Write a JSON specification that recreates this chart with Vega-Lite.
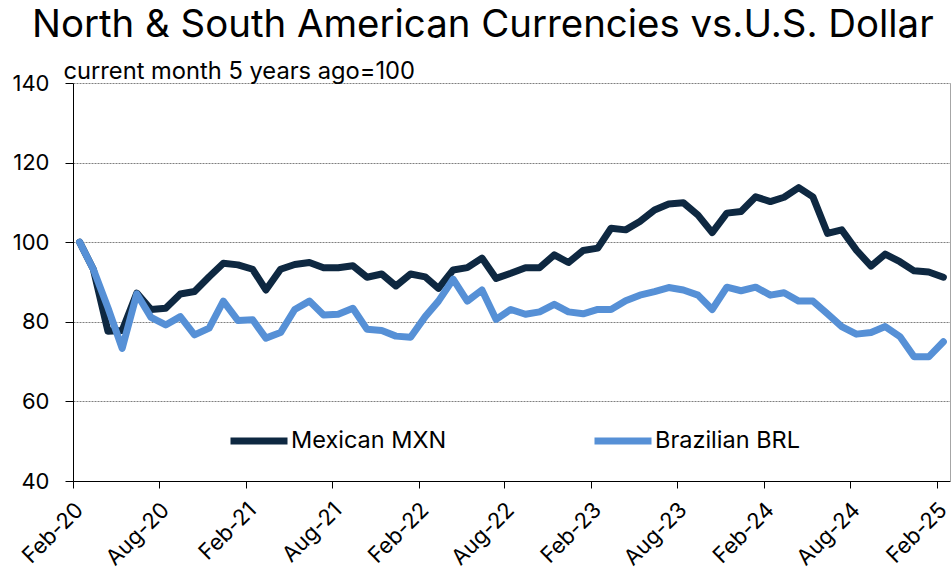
{
  "$schema": "https://vega.github.io/schema/vega-lite/v6.json",
  "autosize": {"type": "none"},
  "width": 877,
  "height": 398,
  "padding": {"left": 73, "top": 83, "right": 1, "bottom": 95},
  "background": "white",
  "config": {"font": "Inter", "view": {"stroke": null}},
  "title": {
    "text": "North & South American Currencies vs.U.S. Dollar",
    "anchor": "start",
    "frame": "group",
    "dx": -41,
    "fontSize": 38.4,
    "fontWeight": "normal",
    "color": "black",
    "baseline": "alphabetic",
    "offset": -16
  },
  "data": {
    "values": [
      {"date": "2020-02-15", "Mexican MXN": 100, "Brazilian BRL": 100},
      {"date": "2020-03-15", "Mexican MXN": 93.2, "Brazilian BRL": 93.2},
      {"date": "2020-04-15", "Mexican MXN": 77.6, "Brazilian BRL": 83.5},
      {"date": "2020-05-15", "Mexican MXN": 77.8, "Brazilian BRL": 73.3},
      {"date": "2020-06-15", "Mexican MXN": 87.2, "Brazilian BRL": 87.0},
      {"date": "2020-07-15", "Mexican MXN": 83.1, "Brazilian BRL": 81.1},
      {"date": "2020-08-15", "Mexican MXN": 83.4, "Brazilian BRL": 79.2},
      {"date": "2020-09-15", "Mexican MXN": 87.0, "Brazilian BRL": 81.3},
      {"date": "2020-10-15", "Mexican MXN": 87.6, "Brazilian BRL": 76.7},
      {"date": "2020-11-15", "Mexican MXN": 91.3, "Brazilian BRL": 78.4},
      {"date": "2020-12-15", "Mexican MXN": 94.7, "Brazilian BRL": 85.2},
      {"date": "2021-01-15", "Mexican MXN": 94.3, "Brazilian BRL": 80.3},
      {"date": "2021-02-15", "Mexican MXN": 93.2, "Brazilian BRL": 80.5},
      {"date": "2021-03-15", "Mexican MXN": 88.0, "Brazilian BRL": 75.9},
      {"date": "2021-04-15", "Mexican MXN": 93.2, "Brazilian BRL": 77.3},
      {"date": "2021-05-15", "Mexican MXN": 94.4, "Brazilian BRL": 83.1},
      {"date": "2021-06-15", "Mexican MXN": 94.9, "Brazilian BRL": 85.2},
      {"date": "2021-07-15", "Mexican MXN": 93.6, "Brazilian BRL": 81.7},
      {"date": "2021-08-15", "Mexican MXN": 93.6, "Brazilian BRL": 81.9},
      {"date": "2021-09-15", "Mexican MXN": 94.1, "Brazilian BRL": 83.4},
      {"date": "2021-10-15", "Mexican MXN": 91.2, "Brazilian BRL": 78.1},
      {"date": "2021-11-15", "Mexican MXN": 92.0, "Brazilian BRL": 77.8},
      {"date": "2021-12-15", "Mexican MXN": 89.0, "Brazilian BRL": 76.4},
      {"date": "2022-01-15", "Mexican MXN": 92.0, "Brazilian BRL": 76.1},
      {"date": "2022-02-15", "Mexican MXN": 91.3, "Brazilian BRL": 81.3},
      {"date": "2022-03-15", "Mexican MXN": 88.4, "Brazilian BRL": 85.2},
      {"date": "2022-04-15", "Mexican MXN": 93.0, "Brazilian BRL": 90.7},
      {"date": "2022-05-15", "Mexican MXN": 93.6, "Brazilian BRL": 85.2},
      {"date": "2022-06-15", "Mexican MXN": 96.0, "Brazilian BRL": 88.0},
      {"date": "2022-07-15", "Mexican MXN": 90.9, "Brazilian BRL": 80.6},
      {"date": "2022-08-15", "Mexican MXN": 92.2, "Brazilian BRL": 83.1},
      {"date": "2022-09-15", "Mexican MXN": 93.6, "Brazilian BRL": 81.9},
      {"date": "2022-10-15", "Mexican MXN": 93.6, "Brazilian BRL": 82.5},
      {"date": "2022-11-15", "Mexican MXN": 96.8, "Brazilian BRL": 84.4},
      {"date": "2022-12-15", "Mexican MXN": 94.9, "Brazilian BRL": 82.5},
      {"date": "2023-01-15", "Mexican MXN": 97.9, "Brazilian BRL": 82.0},
      {"date": "2023-02-15", "Mexican MXN": 98.5, "Brazilian BRL": 83.1},
      {"date": "2023-03-15", "Mexican MXN": 103.5, "Brazilian BRL": 83.1},
      {"date": "2023-04-15", "Mexican MXN": 103.1, "Brazilian BRL": 85.3},
      {"date": "2023-05-15", "Mexican MXN": 105.2, "Brazilian BRL": 86.7},
      {"date": "2023-06-15", "Mexican MXN": 108.1, "Brazilian BRL": 87.6},
      {"date": "2023-07-15", "Mexican MXN": 109.6, "Brazilian BRL": 88.6},
      {"date": "2023-08-15", "Mexican MXN": 109.9, "Brazilian BRL": 88.0},
      {"date": "2023-09-15", "Mexican MXN": 106.8, "Brazilian BRL": 86.7},
      {"date": "2023-10-15", "Mexican MXN": 102.4, "Brazilian BRL": 83.1},
      {"date": "2023-11-15", "Mexican MXN": 107.3, "Brazilian BRL": 88.7},
      {"date": "2023-12-15", "Mexican MXN": 107.7, "Brazilian BRL": 87.8},
      {"date": "2024-01-15", "Mexican MXN": 111.4, "Brazilian BRL": 88.7},
      {"date": "2024-02-15", "Mexican MXN": 110.2, "Brazilian BRL": 86.7},
      {"date": "2024-03-15", "Mexican MXN": 111.3, "Brazilian BRL": 87.3},
      {"date": "2024-04-15", "Mexican MXN": 113.7, "Brazilian BRL": 85.2},
      {"date": "2024-05-15", "Mexican MXN": 111.4, "Brazilian BRL": 85.2},
      {"date": "2024-06-15", "Mexican MXN": 102.2, "Brazilian BRL": 82.0},
      {"date": "2024-07-15", "Mexican MXN": 103.1, "Brazilian BRL": 78.8},
      {"date": "2024-08-15", "Mexican MXN": 98.0, "Brazilian BRL": 76.9},
      {"date": "2024-09-15", "Mexican MXN": 94.0, "Brazilian BRL": 77.3},
      {"date": "2024-10-15", "Mexican MXN": 97.0, "Brazilian BRL": 78.8},
      {"date": "2024-11-15", "Mexican MXN": 95.1, "Brazilian BRL": 76.3},
      {"date": "2024-12-15", "Mexican MXN": 92.8, "Brazilian BRL": 71.2},
      {"date": "2025-01-15", "Mexican MXN": 92.5, "Brazilian BRL": 71.2},
      {"date": "2025-02-15", "Mexican MXN": 91.2, "Brazilian BRL": 75.0}
    ]
  },
  "transform": [{"fold": ["Mexican MXN", "Brazilian BRL"], "as": ["series", "value"]}],
  "encoding": {
    "x": {
      "field": "date",
      "type": "temporal",
      "scale": {
        "type": "utc",
        "domain": [
          {"year": 2020, "month": 2, "date": 1, "utc": true},
          {"year": 2025, "month": 3, "date": 1, "utc": true}
        ]
      },
      "axis": {
        "values": [
          {"year": 2020, "month": 2, "date": 1, "utc": true},
          {"year": 2020, "month": 8, "date": 1, "utc": true},
          {"year": 2021, "month": 2, "date": 1, "utc": true},
          {"year": 2021, "month": 8, "date": 1, "utc": true},
          {"year": 2022, "month": 2, "date": 1, "utc": true},
          {"year": 2022, "month": 8, "date": 1, "utc": true},
          {"year": 2023, "month": 2, "date": 1, "utc": true},
          {"year": 2023, "month": 8, "date": 1, "utc": true},
          {"year": 2024, "month": 2, "date": 1, "utc": true},
          {"year": 2024, "month": 8, "date": 1, "utc": true},
          {"year": 2025, "month": 2, "date": 1, "utc": true}
        ],
        "format": "%b-%y",
        "labelAngle": -45,
        "labelAlign": "right",
        "labelBaseline": "middle",
        "labelPadding": 18,
        "labelOffset": 6,
        "labelFontSize": 22,
        "labelColor": "black",
        "labelOverlap": false,
        "labelFlush": false,
        "tickSize": 7,
        "tickColor": "black",
        "domainColor": "black",
        "grid": false,
        "title": null
      }
    },
    "color": {
      "field": "series",
      "type": "nominal",
      "scale": {"domain": ["Mexican MXN", "Brazilian BRL"], "range": ["#0E2841", "#5690D6"]},
      "legend": {
        "title": null,
        "orient": "none",
        "legendX": 154,
        "legendY": 326,
        "direction": "horizontal",
        "columns": 2,
        "columnPadding": 133,
        "symbolType": "stroke",
        "symbolSize": 3249,
        "symbolStrokeWidth": 7,
        "labelFontSize": 23.5,
        "labelColor": "black",
        "labelOffset": 0,
        "labelLimit": 0
      }
    }
  },
  "layer": [
    {
      "transform": [{"filter": {"field": "series", "equal": "Mexican MXN"}}],
      "mark": {"type": "line", "strokeWidth": 7, "strokeJoin": "round", "strokeCap": "round"},
      "encoding": {
        "y": {
          "field": "value",
          "type": "quantitative",
          "scale": {"domain": [40, 140], "nice": false, "zero": false},
          "axis": {
            "orient": "left",
            "values": [40, 60, 80, 100, 120, 140],
            "grid": true,
            "gridDash": [2, 1],
            "gridColor": "#7f7f7f",
            "gridWidth": 1,
            "domainColor": "black",
            "tickColor": "black",
            "tickSize": 8,
            "labelFontSize": 22,
            "labelPadding": 16,
            "labelColor": "black",
            "title": "current month 5 years ago=100",
            "titleAngle": 0,
            "titleAlign": "left",
            "titleBaseline": "alphabetic",
            "titleX": -10,
            "titleY": -5,
            "titleFontSize": 23.7,
            "titleFontWeight": "normal",
            "titleColor": "black"
          }
        }
      }
    },
    {
      "transform": [{"filter": {"field": "series", "equal": "Brazilian BRL"}}],
      "mark": {"type": "line", "strokeWidth": 7, "strokeJoin": "round", "strokeCap": "round"},
      "encoding": {
        "y": {
          "field": "value",
          "type": "quantitative",
          "scale": {"domain": [40, 140], "nice": false, "zero": false},
          "axis": {
            "orient": "right",
            "labels": false,
            "ticks": false,
            "grid": false,
            "domainColor": "#a6a6a6",
            "title": null
          }
        }
      }
    }
  ],
  "resolve": {"axis": {"y": "independent"}}
}
